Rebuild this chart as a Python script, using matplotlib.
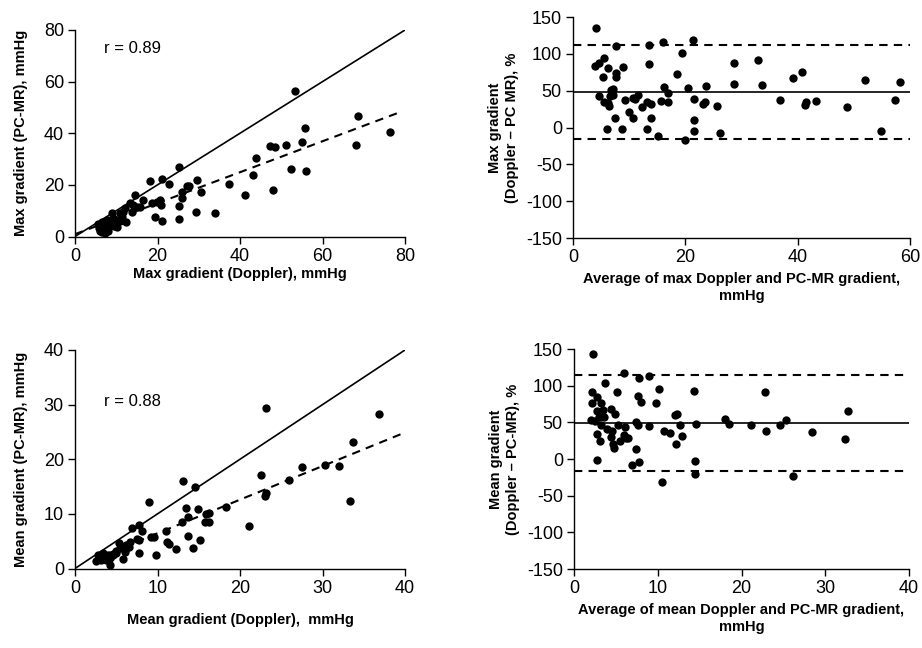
import matplotlib
matplotlib.use("Agg")
import matplotlib.pyplot as plt
import numpy as np

plt.rcParams['font.family'] = ['Liberation Sans', 'DejaVu Sans']
plt.rcParams['axes.unicode_minus'] = False

# ---------------- Data ----------------
# Panel A: max gradient, Doppler (x) vs PC-MR (y)
max_dopp = [53.3, 55.8, 55.1, 47.3, 48.5, 51.2, 43.9, 43.2, 52.4, 56.0, 47.9, 41.2, 37.3, 33.9,
            29.3, 30.5, 29.5, 27.1, 27.6, 26.0, 26.0, 25.3, 25.3, 25.3, 21.1, 22.8, 18.3, 21.0,
            19.4, 18.6, 19.9, 20.8, 20.6, 14.5, 13.3, 14.1, 15.8, 13.7, 11.7, 11.3, 12.4, 8.9,
            9.3, 10.1, 7.7, 6.5, 6.1, 5.7, 6.9, 7.7, 8.5, 7.3, 6.5, 8.1, 10.9, 10.1, 68.5, 68.0,
            76.3, 12.0, 9.5, 7.0, 6.0, 5.5, 8.0, 11.0, 16.5, 15.0]
max_pcmr = [56.5, 42.2, 36.5, 35.1, 34.6, 35.6, 30.3, 23.8, 26.3, 25.4, 18.0, 16.1, 20.2, 9.0,
            9.6, 17.1, 21.9, 19.7, 19.7, 17.4, 14.8, 11.8, 6.7, 27.1, 22.2, 20.3, 21.6, 6.1,
            7.7, 12.9, 13.5, 12.2, 14.1, 16.1, 13.1, 12.2, 11.6, 9.6, 9.6, 7.7, 5.7, 9.0,
            7.0, 6.4, 6.4, 5.7, 4.5, 3.2, 2.5, 3.2, 4.5, 1.2, 1.9, 5.1, 9.0, 3.8, 46.5, 35.5,
            40.3, 11.0, 4.0, 5.0, 2.0, 4.8, 2.0, 6.0, 14.0, 11.5]
r_max = "r = 0.89"
reg_max = (0.60, 0.9)          # slope, intercept of dashed regression line

# Panel B: Bland-Altman for max gradient
ba_max_avg = [4.15, 7.7, 13.5, 16.0, 21.3, 19.4, 4.0, 4.6, 5.5, 6.3, 5.3, 7.6, 7.6, 8.9, 13.5,
              18.5, 28.6, 33.0, 28.7, 33.6, 39.2, 40.7, 51.9, 58.2, 4.7, 5.6, 6.2, 6.4, 6.6,
              6.8, 7.2, 7.1, 9.3, 10.7, 11.1, 11.6, 12.3, 13.2, 13.8, 15.6, 16.2, 17.0, 17.0,
              20.5, 21.6, 23.2, 23.5, 23.7, 25.7, 7.4, 10.0, 10.6, 13.8, 6.0, 8.8, 13.2, 15.2,
              20.0, 21.5, 21.5, 26.1, 36.9, 41.3, 41.5, 43.3, 48.8, 54.8, 57.4]
ba_max_diff = [135.6, 110.9, 111.8, 116.3, 118.5, 100.5, 83.4, 87.0, 93.8, 80.3, 69.0, 73.5,
               68.1, 82.6, 86.1, 72.7, 87.9, 91.5, 58.7, 57.9, 66.9, 75.9, 64.2, 62.4, 43.0,
               34.0, 33.2, 29.6, 43.4, 51.1, 52.0, 44.4, 36.8, 39.9, 38.6, 44.4, 27.3, 34.0,
               32.3, 36.3, 54.7, 46.6, 34.0, 53.8, 38.6, 31.9, 34.0, 57.0, 29.6, 12.9, 20.6,
               12.9, 12.9, -2.7, -1.4, -1.8, -11.6, -17.0, 10.7, -5.4, -7.2, 36.8, 31.0, 34.0,
               36.3, 27.7, -5.4, 37.7]
ba_max_mean = 48
ba_max_limits = (112, -16)

# Panel C: mean gradient, Doppler (x) vs PC-MR (y)
mean_dopp = [23.1, 27.5, 30.3, 32.0, 33.7, 36.8, 33.3, 25.9, 22.5, 23.1, 23.0, 21.1, 18.3, 16.2,
             15.9, 15.8, 16.2, 14.9, 13.7, 13.5, 13.0, 13.1, 14.5, 9.0, 15.2, 14.3, 13.7, 12.2,
             11.4, 11.2, 11.0, 9.8, 9.6, 9.2, 7.7, 8.1, 7.7, 6.9, 7.5, 6.7, 6.2, 5.5, 5.3, 5.8,
             5.0, 4.2, 4.2, 3.6, 3.2, 2.8, 3.4, 2.6, 4.6, 3.8, 7.7, 6.0, 4.0, 3.0, 5.0, 6.5]
mean_pcmr = [29.3, 18.5, 19.0, 18.7, 23.2, 28.2, 12.4, 16.2, 17.2, 13.9, 13.3, 7.7, 11.2, 10.1,
             10.0, 8.5, 8.6, 10.9, 9.5, 11.0, 8.6, 16.0, 14.9, 12.1, 5.2, 3.8, 6.0, 3.5,
             4.5, 4.9, 6.9, 2.4, 5.8, 5.7, 2.8, 6.9, 8.0, 7.5, 5.4, 4.9, 4.3, 3.7, 4.7, 1.7,
             2.8, 1.9, 0.6, 2.2, 1.6, 2.5, 2.8, 1.3, 2.5, 1.6, 5.2, 3.0, 2.4, 2.0, 3.2, 4.0]
r_mean = "r = 0.88"
reg_mean = (0.615, 0.3)

# Panel D: Bland-Altman for mean gradient
ba_mean_avg = [2.3, 6.0, 9.0, 7.8, 3.7, 2.1, 2.7, 5.1, 10.1, 14.3, 22.8, 7.7, 8.0, 9.8, 2.2, 3.2,
               2.8, 3.5, 4.4, 4.9, 3.6, 3.0, 2.0, 2.5, 3.2, 3.9, 4.5, 5.2, 6.1, 7.4, 7.7, 8.9,
               10.7, 11.5, 12.1, 12.3, 12.7, 12.9, 12.2, 14.6, 18.0, 18.5, 21.1, 22.9, 24.6,
               25.3, 28.4, 32.7, 32.4, 26.1, 10.5, 14.4, 14.5, 2.7, 6.9, 7.8, 7.4, 4.4, 4.6,
               4.8, 3.1, 2.8, 5.5, 6.0, 6.5, 6.2]
ba_mean_diff = [143.8, 117.4, 113.8, 110.3, 103.1, 91.5, 84.8, 91.5, 95.1, 93.3, 91.1, 85.7,
                78.1, 76.3, 75.9, 75.9, 66.1, 67.0, 67.9, 61.2, 56.7, 56.7, 53.6, 51.3, 46.9,
                41.5, 38.8, 46.0, 43.3, 50.0, 46.0, 44.6, 38.8, 34.8, 60.3, 61.2, 46.0, 31.3,
                21.0, 47.8, 54.5, 47.8, 46.0, 38.8, 46.0, 52.7, 37.1, 66.1, 27.2, -23.7, -30.8,
                -20.1, -2.2, -1.3, -7.6, -3.6, 13.8, 30.4, 20.1, 15.6, 24.6, 33.5, 24.6, 32.1,
                28.1, 29.0]
ba_mean_mean = 49
ba_mean_limits = (114, -16)

# ---------------- Figure ----------------
fig = plt.figure(figsize=(9.22, 6.48), dpi=100)
W, H = 922.0, 648.0

def add_ax(x0, x1, ytop, ybot):
    return fig.add_axes([x0 / W, 1 - ybot / H, (x1 - x0) / W, (ybot - ytop) / H])

axA = add_ax(75, 405, 30, 236.5)
axB = add_ax(573, 910, 17, 238)
axC = add_ax(75, 405, 350, 568.5)
axD = add_ax(574, 909, 349, 569)

tick_fs = 13
lab_fs = 10.5

def style(ax):
    for s in ['top', 'right']:
        ax.spines[s].set_visible(False)
    for s in ['left', 'bottom']:
        ax.spines[s].set_linewidth(1.0)
    ax.tick_params(direction='out', length=5, width=1.0, labelsize=tick_fs, pad=3)

mk = dict(s=36, color='black', zorder=3, linewidths=0)
dash = (0, (4, 3))

# Panel A
axA.scatter(max_dopp, max_pcmr, **mk)
lim = np.array([0, 80])
axA.plot(lim, lim, color='black', lw=1.2)
xr = np.array([0, 79])
axA.plot(xr, reg_max[0] * xr + reg_max[1], color='black', lw=1.5, ls=dash)
axA.set_xlim(0, 80); axA.set_ylim(0, 80)
axA.set_xticks([0, 20, 40, 60, 80]); axA.set_yticks([0, 20, 40, 60, 80])
axA.text(7, 71, r_max, fontsize=12)
axA.set_xlabel("Max gradient (Doppler), mmHg", fontsize=lab_fs, fontweight='bold', labelpad=2)
axA.set_ylabel("Max gradient (PC-MR), mmHg", fontsize=lab_fs, fontweight='bold', labelpad=11)
style(axA)

# Panel B
axB.scatter(ba_max_avg, ba_max_diff, **mk)
axB.axhline(ba_max_mean, color='black', lw=1.2)
for v in ba_max_limits:
    axB.axhline(v, color='black', lw=1.5, ls=dash)
axB.set_xlim(0, 60); axB.set_ylim(-150, 150)
axB.set_xticks([0, 20, 40, 60]); axB.set_yticks(np.arange(-150, 151, 50))
axB.set_xlabel("Average of max Doppler and PC-MR gradient,\nmmHg", fontsize=lab_fs,
               fontweight='bold', labelpad=4, linespacing=1.3)
axB.set_ylabel("Max gradient\n(Doppler \u2013 PC MR), %", fontsize=lab_fs, fontweight='bold',
               labelpad=5, linespacing=1.3)
style(axB)

# Panel C
axC.scatter(mean_dopp, mean_pcmr, **mk)
lim = np.array([0, 40])
axC.plot(lim, lim, color='black', lw=1.2)
xr = np.array([2.5, 40])
axC.plot(xr, reg_mean[0] * xr + reg_mean[1], color='black', lw=1.5, ls=dash)
axC.set_xlim(0, 40); axC.set_ylim(0, 40)
axC.set_xticks([0, 10, 20, 30, 40]); axC.set_yticks([0, 10, 20, 30, 40])
axC.text(3.5, 29.8, r_mean, fontsize=12)
axC.set_xlabel("Mean gradient (Doppler),  mmHg", fontsize=lab_fs, fontweight='bold', labelpad=12)
axC.set_ylabel("Mean gradient (PC-MR), mmHg", fontsize=lab_fs, fontweight='bold', labelpad=11)
style(axC)

# Panel D
axD.scatter(ba_mean_avg, ba_mean_diff, **mk)
axD.axhline(ba_mean_mean, color='black', lw=1.2)
for v in ba_mean_limits:
    axD.axhline(v, color='black', lw=1.5, ls=dash)
axD.set_xlim(0, 40); axD.set_ylim(-150, 150)
axD.set_xticks([0, 10, 20, 30, 40]); axD.set_yticks(np.arange(-150, 151, 50))
axD.set_xlabel("Average of mean Doppler and PC-MR gradient,\nmmHg", fontsize=lab_fs,
               fontweight='bold', labelpad=4, linespacing=1.3)
axD.set_ylabel("Mean gradient\n(Doppler \u2013 PC-MR), %", fontsize=lab_fs, fontweight='bold',
               labelpad=5, linespacing=1.3)
style(axD)

fig.savefig("out.png", dpi=100)
